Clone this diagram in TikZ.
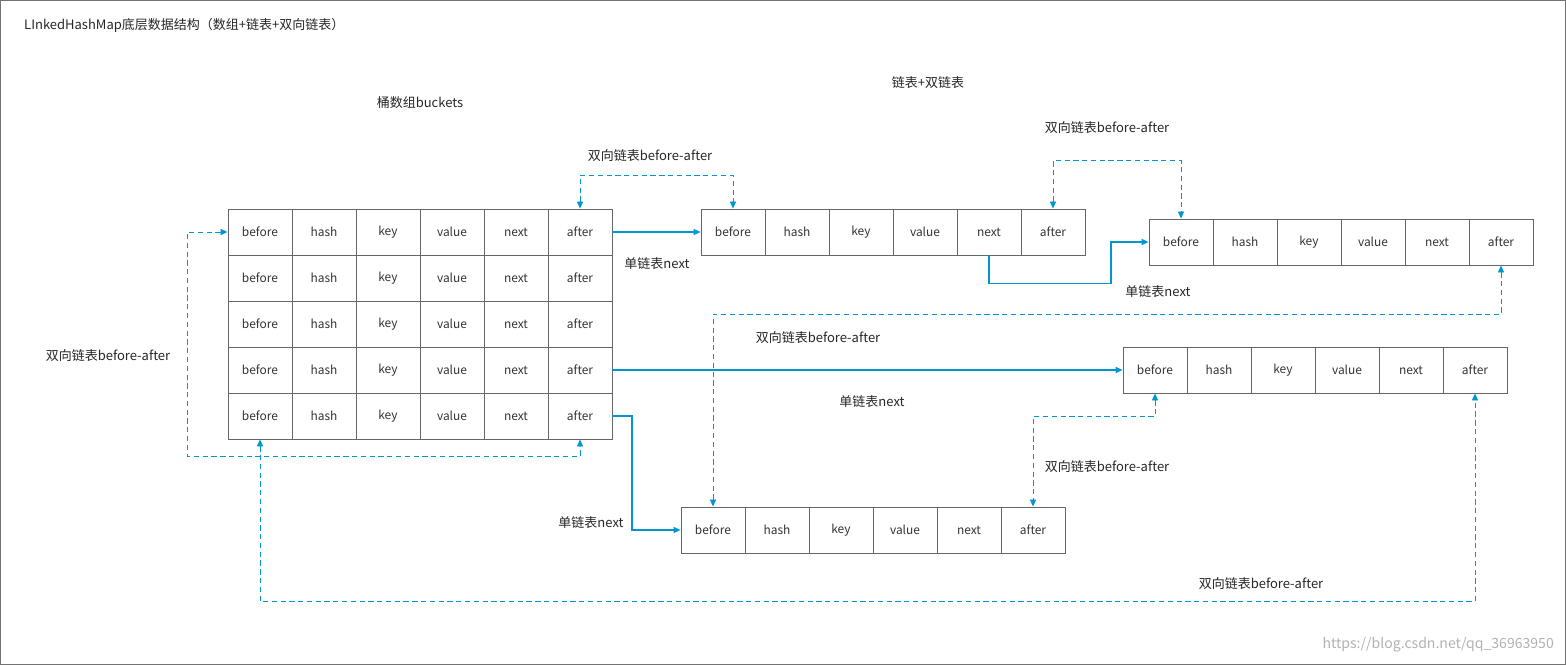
\documentclass[tikz,border=0pt]{standalone}
\usepackage{fontspec}
\setmainfont{Noto Sans CJK SC}
\usetikzlibrary{arrows.meta}
\definecolor{linkblue}{RGB}{0,150,210}
\newcommand\hashrow[3]{%
  \foreach \f [count=\i from 0] in {before,hash,key,value,next,after}
    \node[cell] (#1-\f) at ({#2+32+64*\i},#3) {\f};}
\begin{document}
\begin{tikzpicture}[x=0.02cm,y=-0.02cm,
cell/.style={draw=black!60,line width=0.5pt,minimum width=1.28cm,minimum height=0.92cm,
  inner sep=0pt,font=\fontsize{6.8}{8}\selectfont,text=black!80},
lbl/.style={font=\fontsize{7.4}{9}\selectfont,text=black!85},
nextline/.style={linkblue,line width=0.6pt,-{Triangle[length=4pt,width=3.5pt]}},
dblline/.style={linkblue,line width=0.5pt,densely dashed,{Triangle[length=4pt,width=3.5pt]}-{Triangle[length=4pt,width=3.5pt]}}]

\useasboundingbox (0,0) rectangle (1566,665);
\draw[black!55] (0.5,0.5) rectangle (1565.5,664.5);

\node[lbl,anchor=west] (title) at (18,25) {LInkedHashMap底层数据结构（数组+链表+双向链表）};
\node[lbl] (buckets) at (420,103) {桶数组buckets};
\node[lbl] (lists) at (928,83) {链表+双链表};

% bucket array
\foreach \r/\y in {1/232,2/278,3/324,4/370,5/416}
  {\hashrow{b\r}{228}{\y}}

% entries
\hashrow{A}{701}{232}
\hashrow{B}{1149}{242}
\hashrow{C}{1123}{370}
\hashrow{D}{681}{530}

% single linked next
\draw[nextline] (b1-after.east) -- (A-before.west);
\node[lbl] (n1) at (657,264) {单链表next};
\draw[nextline] (A-next.south) -- ++(0,28) -| (1111,242) -- (B-before.west);
\node[lbl] (n2) at (1158,292) {单链表next};
\draw[nextline] (b4-after.east) -- (C-before.west);
\node[lbl] (n3) at (872,402) {单链表next};
\draw[nextline] (b5-after.east) -| (632,530) -- (D-before.west);
\node[lbl] (n4) at (591,523) {单链表next};

% double linked before-after
\draw[dblline] (b1-after.north) -- ++(0,-33) -| (A-before.north);
\node[lbl] (d1) at (650,156) {双向链表before-after};
\draw[dblline] (A-after.north) -- ++(0,-48) -| (B-before.north);
\node[lbl] (d2) at (1107,128) {双向链表before-after};
\draw[dblline] (B-after.south) -- ++(0,49) -| (D-before.north);
\node[lbl] (d3) at (818,338) {双向链表before-after};
\draw[dblline] (C-before.south) -- ++(0,23) -| (D-after.north);
\node[lbl] (d4) at (1107,467) {双向链表before-after};
\draw[dblline] (b5-before.south) -- ++(0,162) -| (C-after.south);
\node[lbl] (d5) at (1261,584) {双向链表before-after};
\draw[dblline] (b1-before.west) -- ++(-40,0) -- ++(0,224) -| (b5-after.south);
\node[lbl] (d6) at (108,356) {双向链表before-after};

\node[font=\fontsize{8}{10}\selectfont,text=black!30,anchor=east] (mark) at (1560,645) {https://blog.csdn.net/qq\_36963950};
\end{tikzpicture}
\end{document}
